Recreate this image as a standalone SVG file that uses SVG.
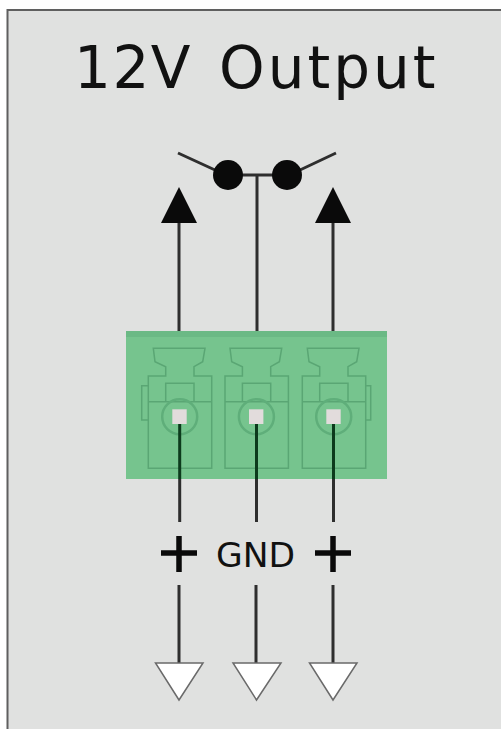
<svg xmlns="http://www.w3.org/2000/svg" width="501" height="729" viewBox="0 0 501 729">
<style>
.t{font-family:"DejaVu Sans",sans-serif;fill:#111}
.w{stroke:#2e2e2e;stroke-width:3;fill:none}
.h{stroke:#5aa674;stroke-width:1.500;fill:none}
.g{fill:#fff;stroke:#6a6a6a;stroke-width:1.500}
.p{stroke:#0a0a0a;stroke-width:5.500;fill:none}
</style>
<defs>
<g id="pole">
<path class="h" d="M153.300 348.300H205L202.700 361.700L194 366.700V376H211.700V468.300H148.300V376H165.700V366.700L155 361.700Z"/>
<path class="h" d="M165.700 401.700V383.300H194V401.700M148.300 401.700H211.700"/>
<circle cx="179.700" cy="416.700" r="17.500" fill="none" stroke="#5fae7a" stroke-width="2.500"/>
<rect x="172.300" y="409.300" width="14.400" height="14.700" fill="#e2dcdc"/>
</g>
</defs>
<rect width="501" height="729" fill="#fff"/>
<g id="panel"><path d="M7 729V10H501V729Z" fill="#e0e1e0"/><path d="M7.500 729V10H501" fill="none" stroke="#5f5f5f" stroke-width="2"/></g>
<g id="title"><text class="t" y="87.500" font-size="58"><tspan x="74" letter-spacing="1.500">12V</tspan> <tspan x="219" letter-spacing="3">Output</tspan></text></g>
<g id="connectors">
<path class="w" d="M179 222V331M257 175V331M333 222V331M179.700 424V522M256.500 424V522M333.500 424V522M179 585V663M256 585V663M333 585V663"/>
<path class="w" d="M178 153L215 170M336 153L300 170M228 175H287"/>
</g>
<g id="switch"><circle cx="228" cy="175" r="15" fill="#0a0a0a"/><circle cx="287" cy="175" r="15" fill="#0a0a0a"/></g>
<g id="arrow-left"><path d="M179 187L197 223H161Z" fill="#0a0a0a"/></g>
<g id="arrow-right"><path d="M333 187L351 223H315Z" fill="#0a0a0a"/></g>
<g id="terminal-block">
<rect x="126" y="331" width="261" height="148" fill="#76c48e"/>
<rect x="126" y="331" width="261" height="6" fill="#6bb985"/>
<use href="#pole"/>
<use href="#pole" x="76.700"/>
<use href="#pole" x="154"/>
<path class="h" d="M148.300 385.700H141.700V420H148.300M366 385.700H370.700V420H366"/>
<path d="M179.700 424V479M256.500 424V479M333.500 424V479" stroke="#0c3a1c" stroke-width="3" fill="none"/>
</g>
<g id="label-plus-left"><path class="p" d="M161 553H197M179 536V572"/></g>
<g id="label-gnd"><text class="t" x="216" y="566.500" font-size="34.500">GND</text></g>
<g id="label-plus-right"><path class="p" d="M315 553H351M333 536V572"/></g>
<g id="ground-1"><path class="g" d="M155.500 663H203L179 700Z"/></g>
<g id="ground-2"><path class="g" d="M233 663H281L256.500 700Z"/></g>
<g id="ground-3"><path class="g" d="M309.500 663H357L333 700Z"/></g>
</svg>
